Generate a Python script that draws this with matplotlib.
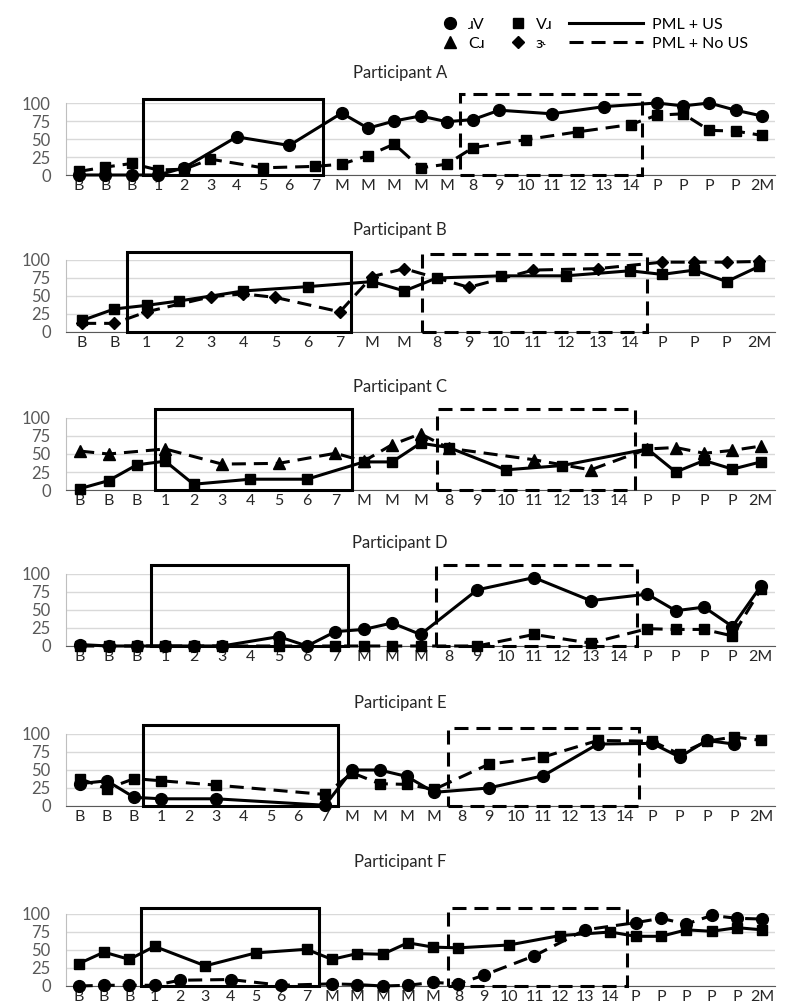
import numpy as np
import matplotlib.pyplot as plt
from matplotlib.lines import Line2D
from matplotlib.patches import Rectangle

plt.rcParams['font.family'] = ['Lato', 'DejaVu Sans']

nan = np.nan

# session labels and % correct for each participant
labels_a = ['B', 'B', 'B', '1', '2', '3', '4', '5', '6', '7', 'M', 'M', 'M', 'M', 'M',
            '8', '9', '10', '11', '12', '13', '14', 'P', 'P', 'P', 'P', '2M']
us_a = [0, 0, 0, 0, 10, nan, 53, nan, 41, nan, 86, 65, 75, 82, 74,
        77, 90, nan, 85, nan, 95, nan, 100, 96, 100, 90, 82]
nous_a = [5, 11, 16, 7, 8, 22, nan, 10, nan, 12, 15, 27, 43, 10, 15,
          38, nan, 49, nan, 60, nan, 70, 83, 85, 62, 61, 55]

labels_b = ['B', 'B', '1', '2', '3', '4', '5', '6', '7', 'M', 'M',
            '8', '9', '10', '11', '12', '13', '14', 'P', 'P', 'P', '2M']
us_b = [16, 32, 37, 43, nan, 57, nan, 63, nan, 70, 57,
        75, nan, 78, nan, 78, nan, 85, 80, 86, 70, 91]
nous_b = [12, 12, 28, nan, 49, 53, 48, nan, 28, 77, 88,
          nan, 62, nan, 86, nan, 88, nan, 97, 97, 97, 98]

labels_c = ['B', 'B', 'B', '1', '2', '3', '4', '5', '6', '7', 'M', 'M', 'M',
            '8', '9', '10', '11', '12', '13', '14', 'P', 'P', 'P', 'P', '2M']
us_c = [2, 13, 35, 40, 8, nan, 15, nan, 15, nan, 39, 39, 65,
        59, nan, 28, nan, 34, nan, nan, 57, 25, 41, 29, 39]
nous_c = [54, 50, nan, 57, nan, 36, nan, 37, nan, 51, 40, 63, 78,
          58, nan, nan, 42, nan, 28, nan, 57, 59, 51, 55, 61]

labels_d = ['B', 'B', 'B', '1', '2', '3', '4', '5', '6', '7', 'M', 'M', 'M',
            '8', '9', '10', '11', '12', '13', '14', 'P', 'P', 'P', 'P', '2M']
us_d = [2, 0, 0, 0, 0, 0, nan, 13, 0, 20, 23, 32, 16,
        nan, 78, nan, 95, nan, 63, nan, 72, 49, 54, 27, 83]
nous_d = [0, 0, 0, 0, 0, 0, nan, 0, nan, 0, 0, 0, 0,
          nan, 0, nan, 16, nan, 4, nan, 24, 23, 23, 14, 79]

labels_e = ['B', 'B', 'B', '1', '2', '3', '4', '5', '6', '7', 'M', 'M', 'M', 'M',
            '8', '9', '10', '11', '12', '13', '14', 'P', 'P', 'P', 'P', '2M']
us_e = [31, 35, 12, 10, nan, 10, nan, nan, nan, 1, 50, 50, 41, 19,
        nan, 25, nan, 42, nan, 86, nan, 87, 68, 91, 86, nan]
nous_e = [38, 24, 38, 35, nan, 29, nan, nan, nan, 16, 46, 31, 30, 23,
          nan, 58, nan, 68, nan, 91, nan, 90, 72, 90, 96, 91]

labels_f = ['B', 'B', 'B', '1', '2', '3', '4', '5', '6', '7', 'M', 'M', 'M', 'M', 'M',
            '8', '9', '10', '11', '12', '13', '14', 'P', 'P', 'P', 'P', 'P', '2M']
us_f = [31, 47, 37, 55, nan, 28, nan, 46, nan, 51, 37, 45, 44, 60, 54,
        53, nan, 57, nan, 70, nan, 75, 69, 69, 78, 76, 81, 78]
nous_f = [0, 1, 1, 1, 8, nan, 9, nan, 1, nan, 3, 2, 0, 1, 5,
          3, 15, nan, 42, nan, 78, nan, 88, 94, 86, 98, 94, 93]

DASH = (0, (4.6, 2.6))
MS = {'o': 8.5, 's': 7.5, '^': 9, 'D': 6.5}

# title, labels, us, no-us, markers, treatment boxes (x0, x1, top), pixel rows
panels = [
    ('Participant A', labels_a, us_a, nous_a, 'o', 's', (2.45, 9.3, 106), (14.5, 21.45, 112), 73, 175),
    ('Participant B', labels_b, us_b, nous_b, 's', 'D', (1.38, 8.33, 111), (10.55, 17.53, 108), 230, 332),
    ('Participant C', labels_c, us_c, nous_c, 's', '^', (2.64, 9.58, 112), (12.58, 19.55, 112), 387, 490),
    ('Participant D', labels_d, us_d, nous_d, 'o', 's', (2.5, 9.45, 112), (12.55, 19.65, 112), 543, 646),
    ('Participant E', labels_e, us_e, nous_e, 'o', 's', (2.32, 9.49, 113), (13.5, 20.52, 108), 703, 806),
    ('Participant F', labels_f, us_f, nous_f, 's', 'o', (2.45, 9.5, 109), (14.6, 21.65, 109), 862, 986),
]

W, H = 800, 1007
fig = plt.figure(figsize=(W / 100, H / 100), dpi=100)

for title, labels, us, nous, m_us, m_nous, box1, box2, ty, y0 in panels:
    ax = fig.add_axes([66 / W, 1 - y0 / H, (775 - 66) / W, 72 / H])
    x = np.arange(len(labels))
    for vals, m, ls in [(nous, m_nous, DASH), (us, m_us, '-')]:
        v = np.array(vals, float)
        ok = ~np.isnan(v)
        ax.plot(x[ok], v[ok], color='black', lw=2.2, ls=ls, marker=m, ms=MS[m],
                clip_on=False, zorder=3)
    for (x0, x1, top), ls in [(box1, '-'), (box2, DASH)]:
        ax.add_patch(Rectangle((x0, 0), x1 - x0, top, fill=False, lw=2.2, ls=ls,
                               ec='black', clip_on=False, zorder=4))
    ax.set_xlim(-0.5, len(labels) - 0.5)
    ax.set_ylim(0, 100)
    ax.set_yticks([0, 25, 50, 75, 100])
    ax.set_xticks(x)
    ax.set_xticklabels(labels)
    ax.tick_params(axis='y', length=0, pad=11, labelsize=12, labelcolor='#595959')
    ax.tick_params(axis='x', length=0, pad=3, labelsize=11.5, labelcolor='#262626')
    ax.grid(axis='y', color='#d9d9d9', lw=1)
    ax.set_axisbelow(True)
    for s in ['top', 'right']:
        ax.spines[s].set_visible(False)
    ax.spines['left'].set_color('#bfbfbf')
    ax.spines['bottom'].set_color('#595959')
    fig.text(0.5, 1 - ty / H, title, ha='center', va='center', fontsize=12, color='#262626')

# legend
mk = [Line2D([], [], ls='none', marker=m, color='black', ms=MS[m]) for m in ['o', '^', 's', 'D']]
fig.legend(mk, ['ɹV', 'Cɹ', 'Vɹ', 'ɝ'], ncol=2, loc='center left',
           bbox_to_anchor=(428 / W, 1 - 34 / H), frameon=False, fontsize=11.5,
           handlelength=1, handletextpad=0.6, columnspacing=1.6, labelspacing=0.3)
ln = [Line2D([], [], color='black', lw=2.2), Line2D([], [], color='black', lw=2.2, ls=DASH)]
fig.legend(ln, ['PML + US', 'PML + No US'], loc='center left',
           bbox_to_anchor=(555 / W, 1 - 34 / H), frameon=False, fontsize=11.5,
           handlelength=4.6, handletextpad=0.6, labelspacing=0.3)

fig.savefig('out.png', dpi=100)
